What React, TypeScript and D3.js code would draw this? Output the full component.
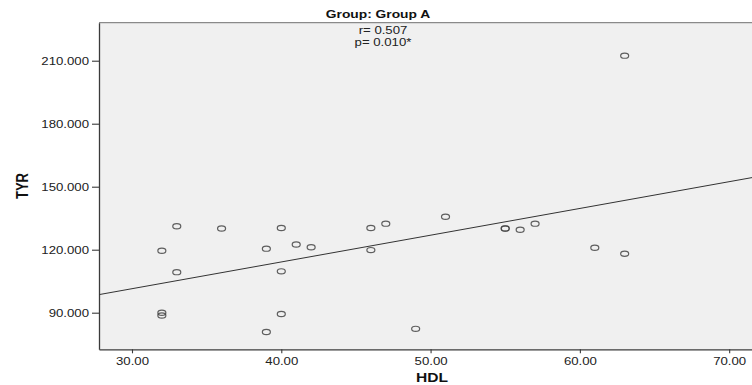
import * as d3 from 'd3';
import { useEffect, useRef } from 'react';

// HDL (x) and TYR (y) for Group A
const hdl = [32, 32, 32, 33, 33, 36, 39, 39, 40, 40, 40, 41, 42, 46, 46, 47, 49, 51, 55, 55, 56, 57, 61, 63, 63];
const tyr = [119.5, 90.0, 88.7, 131.2, 109.3, 130.1, 120.5, 80.8, 130.3, 109.7, 89.4, 122.5, 121.2, 130.3, 119.8, 132.4, 82.3, 135.7, 130.1, 130.1, 129.5, 132.4, 120.9, 212.4, 118.1];
const xTicks = [30, 40, 50, 60, 70];
const yTicks = [90, 120, 150, 180, 210];
const title = 'Group: Group A';
const statLines = ['r= 0.507', 'p= 0.010*'];
const xLabel = 'HDL';
const yLabel = 'TYR';

const W = 752;
const H = 385;
const SX = 1.2; // the source image is stretched horizontally
const FONT = '"Liberation Sans", Arial, sans-serif';

const App = () => {
    const ref = useRef<SVGSVGElement>(null);

    useEffect(() => {
        document.body.style.margin = '0';
        const svg = d3.select(ref.current);
        svg.selectAll('*').remove();

        const left = 99, right = 765, top = 22.7, bottom = 349.3;

        const x = d3.scaleLinear().domain([27.79, 72.4]).range([left, right]);
        const y = d3.scaleLinear().domain([72.57, 228.1]).range([bottom, top]);

        // plot background
        svg.append('rect')
            .attr('x', left).attr('y', top)
            .attr('width', right - left).attr('height', bottom - top)
            .attr('fill', '#f0f0f0');
        svg.append('line')
            .attr('x1', left).attr('x2', right)
            .attr('y1', top).attr('y2', top)
            .attr('stroke', '#8a8a8a').attr('stroke-width', 1.2);

        // axes
        const xAxis = svg.append('g')
            .attr('transform', `translate(0,${bottom})`)
            .call(d3.axisBottom(x).tickValues(xTicks).tickFormat(d3.format('.2f')).tickSize(4).tickPadding(3.5).tickSizeOuter(0));
        const yAxis = svg.append('g')
            .attr('transform', `translate(${left},0)`)
            .call(d3.axisLeft(y).tickValues(yTicks).tickFormat(d3.format('.3f')).tickSize(7).tickPadding(3).tickSizeOuter(0));

        [xAxis, yAxis].forEach(g => {
            g.select('.domain').attr('stroke', '#3a3a3a').attr('stroke-width', 1.3);
            g.selectAll('.tick line').attr('stroke', '#3a3a3a').attr('stroke-width', 1.1);
            g.selectAll('.tick text')
                .attr('fill', '#222')
                .style('font-family', FONT)
                .style('font-size', '11px');
        });
        xAxis.selectAll('.tick text').attr('transform', `scale(${SX},1)`);
        yAxis.selectAll('.tick text').attr('x', -10 / SX).attr('transform', `scale(${SX},1)`);

        // fit line (least squares)
        const mx = d3.mean(hdl) as number;
        const my = d3.mean(tyr) as number;
        const sxy = d3.sum(hdl, (v, i) => (v - mx) * (tyr[i] - my));
        const sxx = d3.sum(hdl, v => (v - mx) * (v - mx));
        const slope = sxy / sxx;
        const b = my - slope * mx;
        const [d0, d1] = x.domain();
        svg.append('line')
            .attr('x1', x(d0)).attr('y1', y(b + slope * d0))
            .attr('x2', x(d1)).attr('y2', y(b + slope * d1))
            .attr('stroke', '#333').attr('stroke-width', 1);

        // points
        svg.append('g')
            .selectAll('ellipse')
            .data(hdl)
            .enter().append('ellipse')
            .attr('cx', d => x(d))
            .attr('cy', (d, i) => y(tyr[i]))
            .attr('rx', 4)
            .attr('ry', 2.6)
            .attr('fill', 'none')
            .attr('stroke', '#444')
            .attr('stroke-width', 1.2)
            .attr('stroke-opacity', 0.85);

        // titles
        svg.append('text')
            .attr('transform', `translate(378,18) scale(${SX},1)`)
            .attr('text-anchor', 'middle')
            .style('font-family', FONT).style('font-size', '11.5px').style('font-weight', 'bold')
            .attr('fill', '#111')
            .text(title);

        svg.selectAll('.stat')
            .data(statLines)
            .enter().append('text')
            .attr('class', 'stat')
            .attr('transform', (d, i) => `translate(383,${34 + i * 12}) scale(${SX},1)`)
            .attr('text-anchor', 'middle')
            .style('font-family', FONT).style('font-size', '11px')
            .attr('fill', '#222')
            .text(d => d);

        svg.append('text')
            .attr('transform', `translate(432,382) scale(${SX},1)`)
            .attr('text-anchor', 'middle')
            .style('font-family', FONT).style('font-size', '13px').style('font-weight', 'bold')
            .attr('fill', '#111')
            .text(xLabel);

        svg.append('text')
            .attr('transform', `translate(28,186) rotate(-90) scale(1,${SX})`)
            .attr('text-anchor', 'middle')
            .style('font-family', FONT).style('font-size', '13px').style('font-weight', 'bold')
            .attr('fill', '#111')
            .text(yLabel);
    }, []);

    return (
        <svg ref={ref} width={W} height={H} style={{ display: 'block', background: '#fff' }} />
    );
};

export default App;
